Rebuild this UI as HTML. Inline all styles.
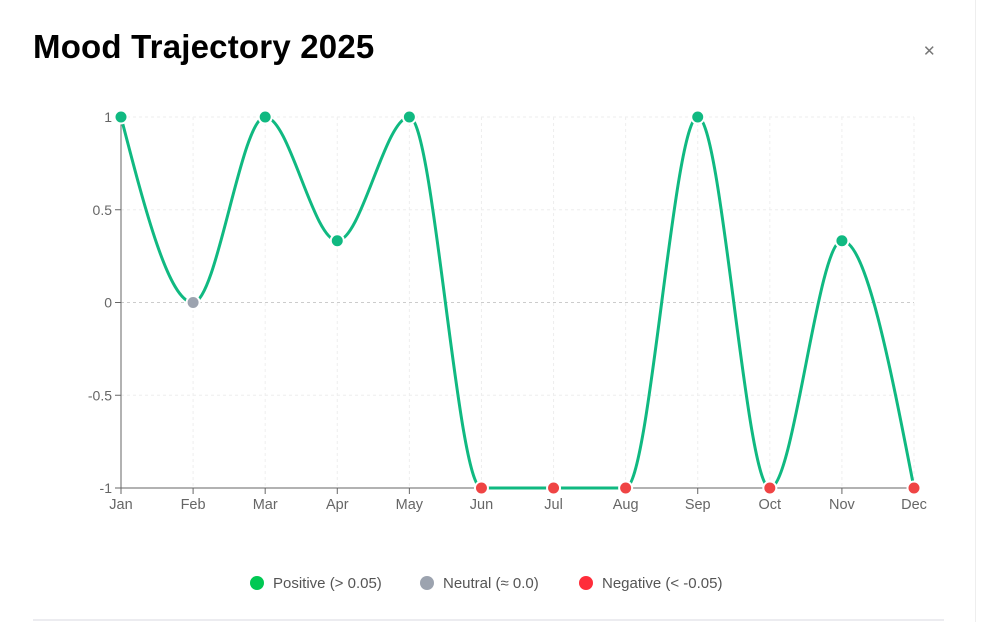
<!DOCTYPE html>
<html><head><meta charset="utf-8"><style>
body{margin:0;width:988px;height:622px;background:#fff;overflow:hidden;font-family:"Liberation Sans",sans-serif;position:relative}
h1{position:absolute;left:33px;top:28px;margin:0;font-size:33px;font-weight:bold;color:#000;letter-spacing:0.2px}
.close{position:absolute;left:923px;top:42px;font-size:15px;color:#777}
.rule{position:absolute;left:33px;top:619px;width:911px;height:2px;background:#ececf0}
.vline{position:absolute;left:975px;top:0;width:1px;height:622px;background:#eee}
svg{position:absolute;left:0;top:0}
</style></head><body>
<h1>Mood Trajectory 2025</h1>
<div class="close">✕</div>
<div class="vline"></div>
<div class="rule"></div>
<svg id="chart" width="988" height="622"></svg>
<script>
const months=["Jan","Feb","Mar","Apr","May","Jun","Jul","Aug","Sep","Oct","Nov","Dec"];
const values=[1,0,1,0.333,1,-1,-1,-1,1,-1,0.333,-1];
const yTicks=[1,0.5,0,-0.5,-1];
const yTickLabels=["1","0.5","0","-0.5","-1"];
const legendLabels=["Positive (> 0.05)","Neutral (≈ 0.0)","Negative (< -0.05)"];
const legendColors=["#00c853","#9ca3af","#ff2d3a"];

const X0=121,X1=914,Y0=488,Y1=117;
const x=i=>X0+(X1-X0)*i/(months.length-1);
const y=v=>Y0+(Y1-Y0)*(v+1)/2;
const svg=document.getElementById('chart');
const NS="http://www.w3.org/2000/svg";
function mk(t,a){const e=document.createElementNS(NS,t);for(const k in a)e.setAttribute(k,a[k]);svg.appendChild(e);return e;}

months.forEach((m,i)=>{if(i>0){const g=mk('line',{x1:x(i),x2:x(i),y1:Y1,y2:Y0,stroke:'#eee','stroke-dasharray':'3 3'});

}});
yTicks.forEach((t,i)=>{if(t!==-1){const g=mk('line',{x1:X0,x2:X1,y1:y(t),y2:y(t),stroke:t===0?'#ccc':'#eee','stroke-dasharray':'3 3'});

}
const tk=mk('line',{x1:X0-6,x2:X0,y1:y(t),y2:y(t),stroke:'#666'});


const tx=mk('text',{x:X0-9,y:y(t)+5,'text-anchor':'end','font-size':14,fill:'#666'});tx.textContent=yTickLabels[i];

});
const ya=mk('line',{x1:X0,x2:X0,y1:Y1,y2:Y0,stroke:'#666'});


const xa=mk('line',{x1:X0,x2:X1,y1:Y0,y2:Y0,stroke:'#666'});


months.forEach((m,i)=>{const tk=mk('line',{x1:x(i),x2:x(i),y1:Y0,y2:Y0+6,stroke:'#666'});


const tx=mk('text',{x:x(i),y:Y0+21,'text-anchor':'middle','font-size':14.5,fill:'#666'});tx.textContent=m;

});

const px=months.map((m,i)=>x(i)),py=values.map(v=>y(v)),n=px.length;
const s=[],t=[];for(let i=0;i<n-1;i++)s.push((py[i+1]-py[i])/(px[i+1]-px[i]));
for(let i=1;i<n-1;i++){const h0=px[i]-px[i-1],h1=px[i+1]-px[i],s0=s[i-1],s1=s[i],p=(s0*h1+s1*h0)/(h0+h1);
t[i]=(Math.sign(s0)+Math.sign(s1))*Math.min(Math.abs(s0),Math.abs(s1),0.5*Math.abs(p))||0;}
t[0]=(3*s[0]-t[1])/2;t[n-1]=(3*s[n-2]-t[n-2])/2;
let d=`M${px[0]},${py[0]}`;
for(let i=0;i<n-1;i++){const h=(px[i+1]-px[i])/3;d+=`C${px[i]+h},${py[i]+h*t[i]} ${px[i+1]-h},${py[i+1]-h*t[i+1]} ${px[i+1]},${py[i+1]}`;}
const line=mk('path',{d,fill:'none',stroke:'#10b981','stroke-width':3});


values.forEach((v,i)=>{const c=v>0.05?'#10b981':v<-0.05?'#ef4444':'#9ca3af';
const p=mk('circle',{cx:px[i],cy:py[i],r:6.5,fill:c,stroke:'#fff','stroke-width':2});

});

const lx=[257,427,586];
legendLabels.forEach((l,i)=>{const c=mk('circle',{cx:lx[i],cy:583,r:7,fill:legendColors[i]});


const tx=mk('text',{x:lx[i]+16,y:588,'font-size':15,fill:'#555'});tx.textContent=l;

});
</script>
</body></html>
